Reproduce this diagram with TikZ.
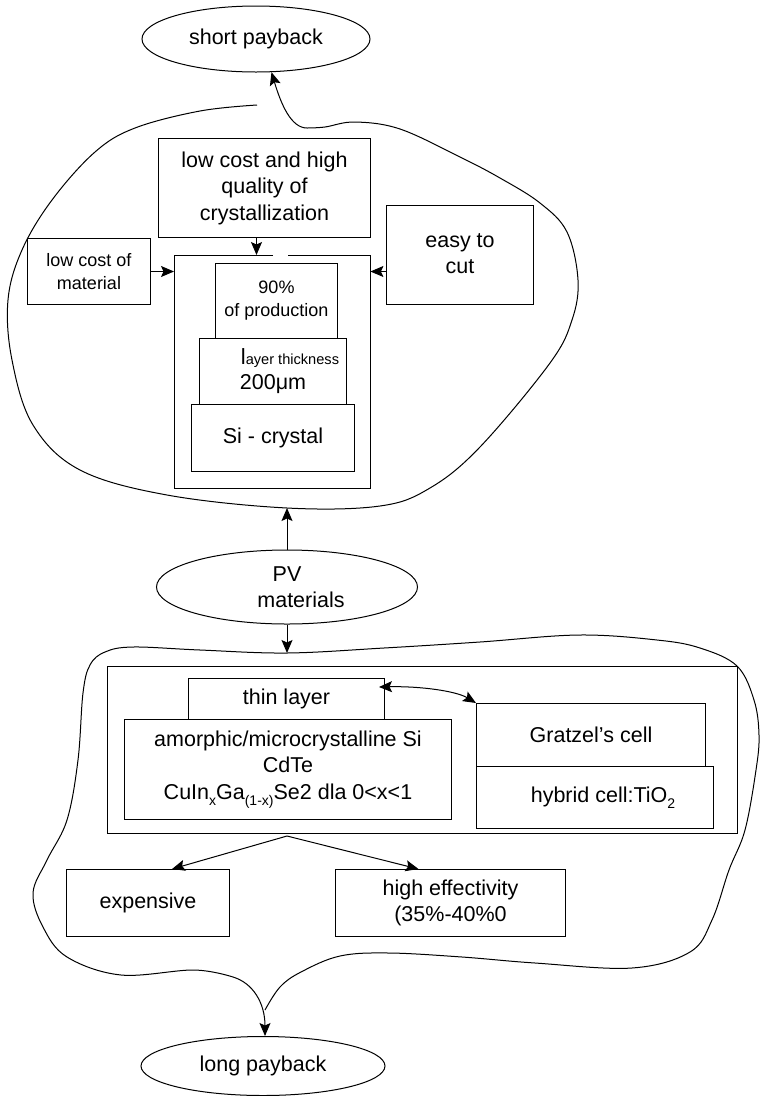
\documentclass[tikz,border=0pt]{standalone}
\usepackage{fontspec}
\setmainfont{Liberation Sans}
\usetikzlibrary{arrows.meta,shapes.geometric,calc}
\newcommand\mainfs{\fontsize{21.5}{26.5}\selectfont}
\newcommand\smallfs{\fontsize{18}{23}\selectfont}
\newcommand\tinyfs{\fontsize{14.6}{18}\selectfont}
\newcommand\subfs{\fontsize{14}{14}\selectfont}
\tikzset{
  box/.style={draw, line width=1pt, rectangle, inner sep=0pt, anchor=north west, align=center, font=\mainfs},
  oval/.style={draw, line width=1pt, ellipse, inner sep=0pt, align=center, font=\mainfs},
  arr/.style={-{Stealth[length=13pt,width=11pt,inset=2.5pt]}, line width=1pt},
  darr/.style={{Stealth[length=13pt,width=11pt,inset=2.5pt]}-{Stealth[length=13pt,width=11pt,inset=2.5pt]}, line width=1pt},
  blob/.style={line width=1pt},
}
\begin{document}
\begin{tikzpicture}[x=1pt,y=-1pt]
\useasboundingbox (0,0) rectangle (762,1096);

% ---------- top part ----------
\node[oval, minimum width=228pt, minimum height=66pt] (short) at (256,39) {short payback};

\node[box, minimum width=212pt, minimum height=99pt] (cryst) at (158,138) {low cost and high\\quality of\\crystallization};
\node[box, font=\smallfs, minimum width=123pt, minimum height=66pt] (mat) at (27,238) {low cost of\\material};
\node[box, minimum width=147pt, minimum height=99pt] (easy) at (386,205)
  {\raisebox{6pt}{\begin{tabular}{@{}c@{}}easy to\\cut\end{tabular}}};

\node[rectangle, draw=none, inner sep=0pt, anchor=north west, minimum width=196pt, minimum height=233pt] (cont) at (174,255) {};
\draw[line width=1pt] ([xshift=1pt]cont.north) -| (cont.south west) -| (cont.north east) -- ([xshift=16pt]cont.north);

\node[box, font=\smallfs, minimum width=122pt, minimum height=75pt] (p90) at (215,263) {90\%\\of production};
\node[box, font=\mainfs, minimum width=147pt, minimum height=66pt] (lay) at (199,338)
  {\begin{tabular}{@{}c@{}}\hspace*{34pt}{\fontsize{22}{22}\selectfont l}{\tinyfs ayer thickness}\\[-1.5pt]200μm\end{tabular}};
\node[box, minimum width=163pt, minimum height=67pt] (sic) at (191,404) {Si - crystal};

\draw[arr] ([xshift=-8pt]cryst.south) -- ([xshift=-8pt]cryst.south |- cont.north);
\draw[arr] (mat.east) -- (mat.east -| cont.west);
\draw[arr] (easy.west |- mat.east) -- (cont.east |- mat.east);

% top blob
\coordinate (tbend) at (307,128);
\coordinate (tbot) at (287,508);
\draw[blob] plot[smooth, tension=0.6] coordinates {
  (257,105) (200,111) (135,128) (95,152) (52,200) (22,250) (8,300) (12,360) (33,425)
  (80,470) (167,495) (287,508) (380,506) (430,488) (480,447) (550,363) (572,320)
  (578,280) (567,232) (540,203) (500,178) (460,157) (400,129) (355,122) (325,127) (307,128)};
\draw[arr] (tbend) .. controls (291,128) and (281,104) .. (short.-65);

% ---------- middle ----------
\node[oval, minimum width=261pt, minimum height=74pt] (pv) at (287,587) {PV\\\hspace*{28pt}materials};
\draw[arr] (pv.north) -- (tbot);
\coordinate (btop) at (287,653);
\draw[arr] (pv.south) -- (btop);

% ---------- bottom part ----------
\node[box, minimum width=630pt, minimum height=167pt] (big) at (107,666) {};
\node[box, minimum width=196pt, minimum height=41pt] (thin) at (188,678) {thin layer};
\node[box, minimum width=327pt, minimum height=100pt] (amor) at (124,719)
  {amorphic/microcrystalline Si\\CdTe\\CuIn\raisebox{-6pt}{\subfs x}Ga\raisebox{-6pt}{\subfs (1-x)}Se2 dla 0<x<1};
\node[box, minimum width=229pt, minimum height=63pt] (grat) at (476,703) {Gratzel's cell};
\node[box, minimum width=237pt, minimum height=62pt] (hyb) at (476,766) {\hspace*{16pt}hybrid cell:TiO\raisebox{-6pt}{\subfs 2}};

\draw[darr] ([xshift=-6pt,yshift=-9pt]thin.north east) .. controls (420,686) and (456,691) .. (grat.north west);

\node[box, minimum width=163pt, minimum height=67pt] (exp) at (66,869) {expensive};
\node[box, minimum width=230pt, minimum height=67pt] (heff) at (335,869) {high effectivity\\(35\%-40\%0};
\coordinate (split) at (287,836);
\draw[arr] (split) -- ([xshift=24pt]exp.north);
\draw[arr] (split) -- ([xshift=-32pt]heff.north);

\node[oval, minimum width=244pt, minimum height=59pt] (long) at (263,1066) {long payback};

% bottom blob
\coordinate (bbend) at (233,977);
\draw[blob] plot[smooth, tension=0.6] coordinates {
  (265,1010) (280,987) (301,972) (340,956) (389,953) (462,957) (535,963) (632,968)
  (690,952) (712,920) (729,870) (745,830) (756,770) (759,735) (754,700) (737,666)
  (700,648) (657,640) (579,635) (480,642) (384,648) (287,653) (200,650) (133,647)
  (105,652) (90,665) (83,693) (78,760) (67,820) (47,860) (33,893) (43,927) (67,957)
  (121,975) (194,970) (233,977)};
\draw[arr] (bbend) .. controls (253,983) and (265,1003) .. ([xshift=2pt]long.north);

\end{tikzpicture}
\end{document}
